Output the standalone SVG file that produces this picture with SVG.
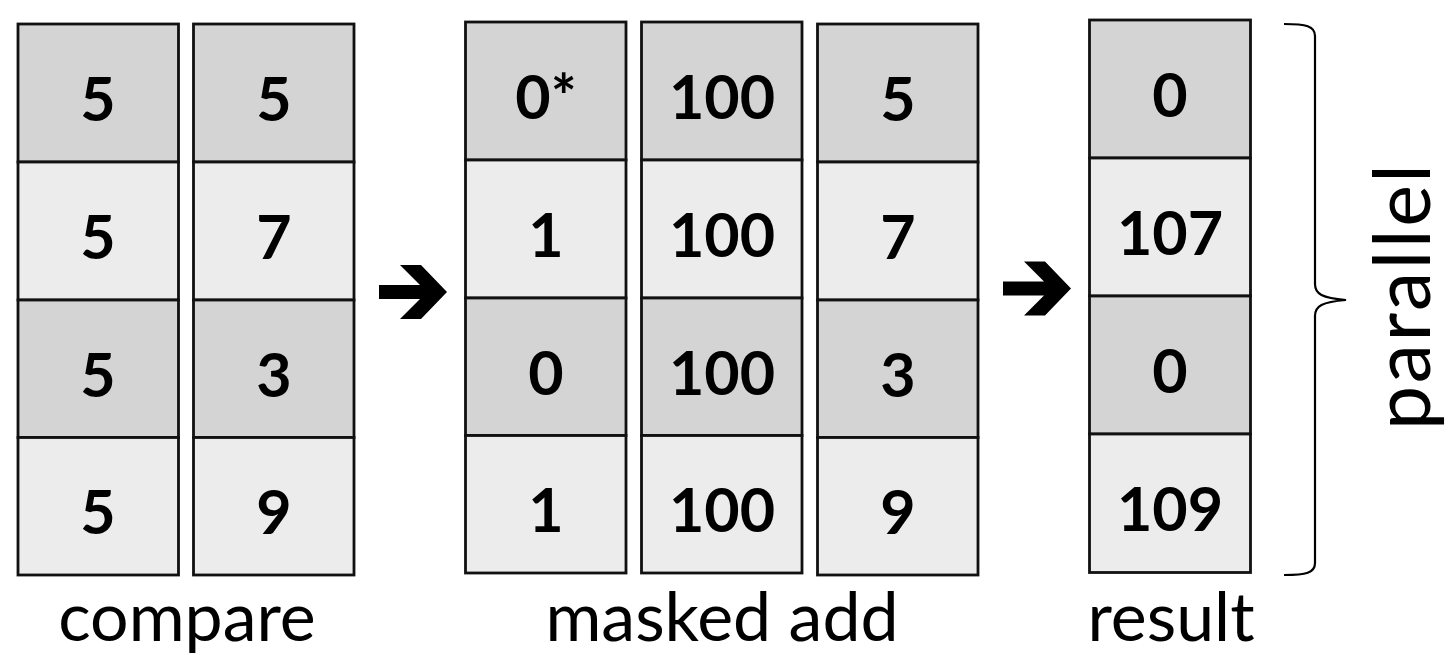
<svg xmlns="http://www.w3.org/2000/svg" width="1448" height="655" viewBox="0 0 1448 655">
  <style>
    .dark { fill: #d4d4d4; stroke: #111; stroke-width: 2.8; }
    .light { fill: #ececec; stroke: #111; stroke-width: 2.8; }
    .num { font-family: Lato, "Open Sans", "Liberation Sans", sans-serif; font-weight: 700; font-size: 61px; fill: #000; text-anchor: middle; }
    .label { font-family: Lato, "Open Sans", "Liberation Sans", sans-serif; font-size: 68px; fill: #000; text-anchor: middle; }
    .arrow { fill: #000; }
    .brace { fill: none; stroke: #000; stroke-width: 2.2; }
  </style>
  <defs>
    <polygon id="fat-arrow" points="0,20 41,20 21,0 42,0 68,27 42,54 21,54 41,34 0,34"/>
  </defs>
  <rect width="1448" height="655" fill="#fff"/>

  <!-- compare: two vectors -->
  <g id="compare-a">
    <rect class="dark" x="18" y="24" width="160.5" height="138"/>
    <rect class="light" x="18" y="162" width="160.5" height="138"/>
    <rect class="dark" x="18" y="300" width="160.5" height="137.5"/>
    <rect class="light" x="18" y="437.5" width="160.5" height="137.5"/>
    <text class="num" x="98" y="121">5</text>
    <text class="num" x="98" y="259">5</text>
    <text class="num" x="98" y="397">5</text>
    <text class="num" x="98" y="534">5</text>
  </g>
  <g id="compare-b">
    <rect class="dark" x="193.5" y="24" width="160.5" height="138"/>
    <rect class="light" x="193.5" y="162" width="160.5" height="138"/>
    <rect class="dark" x="193.5" y="300" width="160.5" height="137.5"/>
    <rect class="light" x="193.5" y="437.5" width="160.5" height="137.5"/>
    <text class="num" x="274" y="121">5</text>
    <text class="num" x="274" y="259">7</text>
    <text class="num" x="274" y="397">3</text>
    <text class="num" x="274" y="534">9</text>
  </g>

  <!-- masked add: mask, addend, source -->
  <g id="mask">
    <rect class="dark" x="465.5" y="22" width="160.5" height="138"/>
    <rect class="light" x="465.5" y="160" width="160.5" height="138"/>
    <rect class="dark" x="465.5" y="298" width="160.5" height="137.5"/>
    <rect class="light" x="465.5" y="435.5" width="160.5" height="137.5"/>
    <text class="num" x="546" y="119">0*</text>
    <text class="num" x="546" y="257">1</text>
    <text class="num" x="546" y="395">0</text>
    <text class="num" x="546" y="532">1</text>
  </g>
  <g id="addend">
    <rect class="dark" x="641.5" y="22" width="160.5" height="138"/>
    <rect class="light" x="641.5" y="160" width="160.5" height="138"/>
    <rect class="dark" x="641.5" y="298" width="160.5" height="137.5"/>
    <rect class="light" x="641.5" y="435.5" width="160.5" height="137.5"/>
    <text class="num" x="722" y="119">100</text>
    <text class="num" x="722" y="257">100</text>
    <text class="num" x="722" y="395">100</text>
    <text class="num" x="722" y="532">100</text>
  </g>
  <g id="source">
    <rect class="dark" x="817.5" y="24" width="160.5" height="138"/>
    <rect class="light" x="817.5" y="162" width="160.5" height="138"/>
    <rect class="dark" x="817.5" y="300" width="160.5" height="137.5"/>
    <rect class="light" x="817.5" y="437.5" width="160.5" height="137.5"/>
    <text class="num" x="898" y="121">5</text>
    <text class="num" x="898" y="259">7</text>
    <text class="num" x="898" y="397">3</text>
    <text class="num" x="898" y="534">9</text>
  </g>

  <!-- result vector -->
  <g id="result">
    <rect class="dark" x="1089.5" y="20" width="161" height="138"/>
    <rect class="light" x="1089.5" y="158" width="161" height="138"/>
    <rect class="dark" x="1089.5" y="296" width="161" height="138"/>
    <rect class="light" x="1089.5" y="434" width="161" height="138.5"/>
    <text class="num" x="1170" y="117">0</text>
    <text class="num" x="1170" y="255">107</text>
    <text class="num" x="1170" y="393">0</text>
    <text class="num" x="1170" y="531">109</text>
  </g>

  <!-- step arrows -->
  <g id="connectors">
    <use href="#fat-arrow" class="arrow" x="379" y="265"/>
    <use href="#fat-arrow" class="arrow" x="1003" y="261.5"/>
  </g>

  <!-- brace spanning all lanes -->
  <g id="lanes-brace">
    <path class="brace" d="M1284,24 C1306,24 1315,26 1315,36 L1315,284 C1315,294 1322,298 1346,300 C1322,302 1315,306 1315,316 L1315,563 C1315,573 1306,575 1284,575"/>
    <text class="label" transform="translate(1430,297) rotate(-90)" style="font-size:79px" x="0" y="0" textLength="266" lengthAdjust="spacing">parallel</text>
  </g>

  <!-- stage captions -->
  <g id="captions">
    <text class="label" x="187" y="641">compare</text>
    <text class="label" x="722" y="641">masked add</text>
    <text class="label" x="1171" y="641">result</text>
  </g>
</svg>
